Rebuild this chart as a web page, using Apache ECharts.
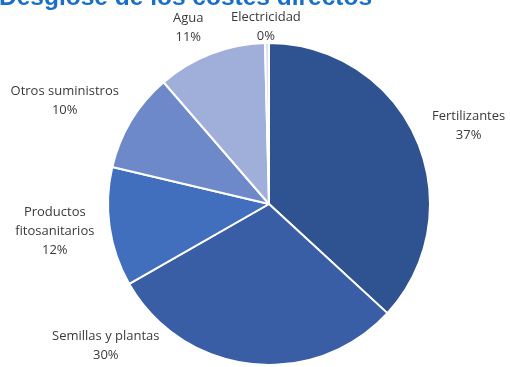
<!DOCTYPE html>
<html>
<head>
<meta charset="utf-8">
<script src="https://cdn.jsdelivr.net/npm/echarts@6/dist/echarts.min.js"></script>
<style>
  html, body { margin: 0; padding: 0; background: #ffffff; }
  #chart { width: 510px; height: 367px; }
</style>
</head>
<body>
<div id="chart"></div>
<script>
const titleText = 'Desglose de los costes directos';
const categories = ['Fertilizantes', 'Semillas y plantas', 'Productos\nfitosanitarios', 'Otros suministros', 'Agua', 'Electricidad'];
const values = [37, 30, 12, 10, 11, 0.4];
const sliceColors = ['#2f5290', '#3a5ea6', '#416ebd', '#6e89c9', '#a0afda', '#dde3f3'];
// label nudges relative to the default outside anchor (style only)
const labelShift = [[43, -10], [-144, -28], [-45, 3], [-58, -15], [-19, -17], [-1, -6]];

const chart = echarts.init(document.getElementById('chart'), null, { renderer: 'canvas' });

const data = categories.map((name, i) => ({
  name: name,
  value: values[i],
  itemStyle: { color: sliceColors[i] }
}));

chart.setOption({
  animation: false,
  backgroundColor: '#ffffff',
  title: {
    text: titleText,
    left: -6,
    top: -19,
    textStyle: {
      fontFamily: 'Liberation Sans',
      fontWeight: 'bold',
      fontSize: 24.5,
      color: '#1870c6'
    }
  },
  series: [{
    type: 'pie',
    center: [269, 204],
    radius: [0, 161],
    startAngle: 90,
    clockwise: true,
    avoidLabelOverlap: false,
    percentPrecision: 0,
    itemStyle: { borderColor: '#ffffff', borderWidth: 2 },
    label: {
      show: true,
      position: 'outside',
      distanceToLabelLine: 0,
      formatter: function (p) { return '{t|' + p.name.split('\n').join('}\n{t|') + '}\n{t|' + p.percent + '%}'; },
      rich: {
        t: { align: 'center', fontFamily: 'Open Sans', fontSize: 13, color: '#3a3a3a', lineHeight: 19 }
      },
      fontFamily: 'Open Sans',
      fontSize: 13,
      color: '#3a3a3a',
      lineHeight: 19
    },
    labelLine: { show: false, length: 10, length2: 0 },
    labelLayout: function (params) {
      const r = params.labelRect;
      let ax;
      if (params.align === 'left') ax = r.x;
      else if (params.align === 'right') ax = r.x + r.width;
      else ax = r.x + r.width / 2;
      const ay = r.y + r.height / 2;
      const s = labelShift[params.dataIndex];
      return { x: ax + s[0], y: ay + s[1], align: 'center', verticalAlign: 'middle' };
    },
    emphasis: { disabled: true },
    data: data
  }]
});
</script>
</body>
</html>
